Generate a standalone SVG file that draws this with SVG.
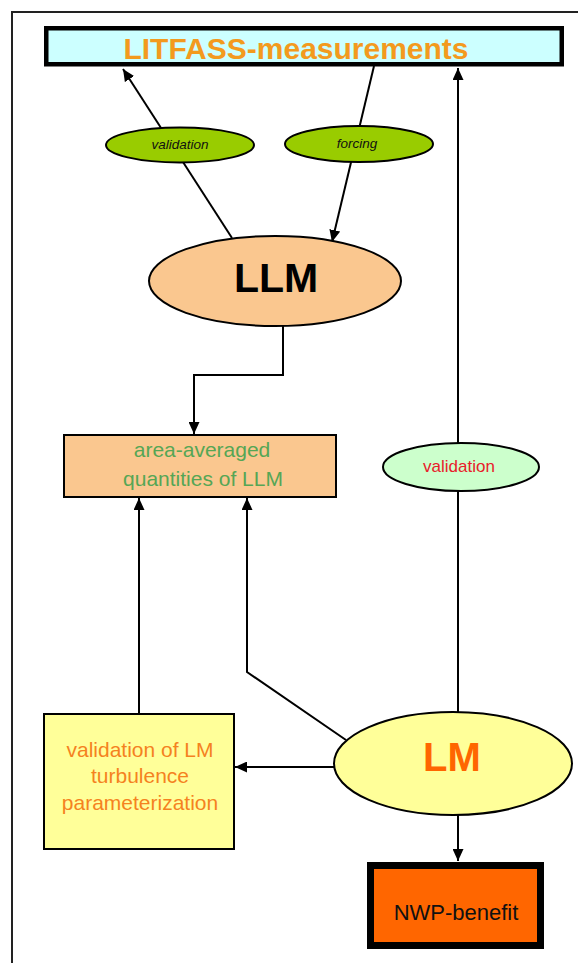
<svg xmlns="http://www.w3.org/2000/svg" width="578" height="963" viewBox="0 0 578 963">
<defs>
<marker id="ah" markerUnits="userSpaceOnUse" markerWidth="13" markerHeight="11" refX="12" refY="5.5" orient="auto">
<path d="M0,0 L12,5.5 L0,11 z" fill="#000"/>
</marker>
<style>
.ln{fill:none;stroke:#000;stroke-width:2}
.t{font-family:"Liberation Sans",Arial,sans-serif;text-anchor:middle}
</style>
</defs>
<rect width="578" height="963" fill="#fff"/>
<path d="M12,963 V12 H578" fill="none" stroke="#222" stroke-width="2"/>
<g id="connectors">
<line class="ln" x1="232" y1="238" x2="123" y2="69" marker-end="url(#ah)"/>
<line class="ln" x1="374" y1="66" x2="332" y2="242" marker-end="url(#ah)"/>
<polyline class="ln" points="283,326 283,375 194,375 194,434" marker-end="url(#ah)"/>
<line class="ln" x1="139" y1="714" x2="139" y2="498" marker-end="url(#ah)"/>
<polyline class="ln" points="346,740 247,672 247,498" marker-end="url(#ah)"/>
<line class="ln" x1="334" y1="767" x2="235" y2="767" marker-end="url(#ah)"/>
<line class="ln" x1="458" y1="712" x2="458" y2="68" marker-end="url(#ah)"/>
<line class="ln" x1="458" y1="815" x2="458" y2="861" marker-end="url(#ah)"/>
</g>
<g id="litfass">
<rect x="46.25" y="28.25" width="515.5" height="36" fill="#ccffff" stroke="#000" stroke-width="4.5"/>
<text class="t" x="296" y="58.5" font-size="30" font-weight="bold" fill="#f39a1e">LITFASS-measurements</text>
</g>
<g id="validation-top">
<ellipse cx="180" cy="145" rx="74" ry="17.5" fill="#99cc00" stroke="#000" stroke-width="2"/>
<text class="t" x="180" y="149" font-size="13.5" font-style="italic" fill="#111">validation</text>
</g>
<g id="forcing">
<ellipse cx="359" cy="144" rx="74" ry="18" fill="#99cc00" stroke="#000" stroke-width="2"/>
<text class="t" x="357" y="148" font-size="13.5" font-style="italic" fill="#111">forcing</text>
</g>
<g id="llm">
<ellipse cx="275" cy="281" rx="126" ry="45" fill="#fac78f" stroke="#000" stroke-width="2"/>
<text class="t" x="276" y="292" font-size="41" font-weight="bold" fill="#000">LLM</text>
</g>
<g id="area-averaged">
<rect x="64" y="435" width="272" height="62" fill="#fac78f" stroke="#000" stroke-width="2"/>
<text class="t" x="202" y="457" font-size="21" fill="#55a655">area-averaged</text>
<text class="t" x="203" y="486" font-size="21" fill="#55a655">quantities of LLM</text>
</g>
<g id="validation-right">
<ellipse cx="461" cy="467" rx="78" ry="24" fill="#ccffcc" stroke="#000" stroke-width="2"/>
<text class="t" x="459" y="472" font-size="17" fill="#e8202a">validation</text>
</g>
<g id="turbulence">
<rect x="44" y="714" width="190" height="135" fill="#ffff99" stroke="#000" stroke-width="2"/>
<text class="t" x="140" y="757" font-size="21" fill="#f5821f">validation of LM</text>
<text class="t" x="140" y="783" font-size="21" fill="#f5821f">turbulence</text>
<text class="t" x="140" y="810" font-size="21" fill="#f5821f">parameterization</text>
</g>
<g id="lm">
<ellipse cx="453" cy="763.5" rx="119" ry="51.5" fill="#ffff99" stroke="#000" stroke-width="2"/>
<text class="t" x="452" y="771" font-size="40" font-weight="bold" fill="#ff6600">LM</text>
</g>
<g id="nwp">
<rect x="370.5" y="865.5" width="170" height="80" fill="#ff6600" stroke="#000" stroke-width="7"/>
<text class="t" x="456" y="920" font-size="22" fill="#111">NWP-benefit</text>
</g>
</svg>
